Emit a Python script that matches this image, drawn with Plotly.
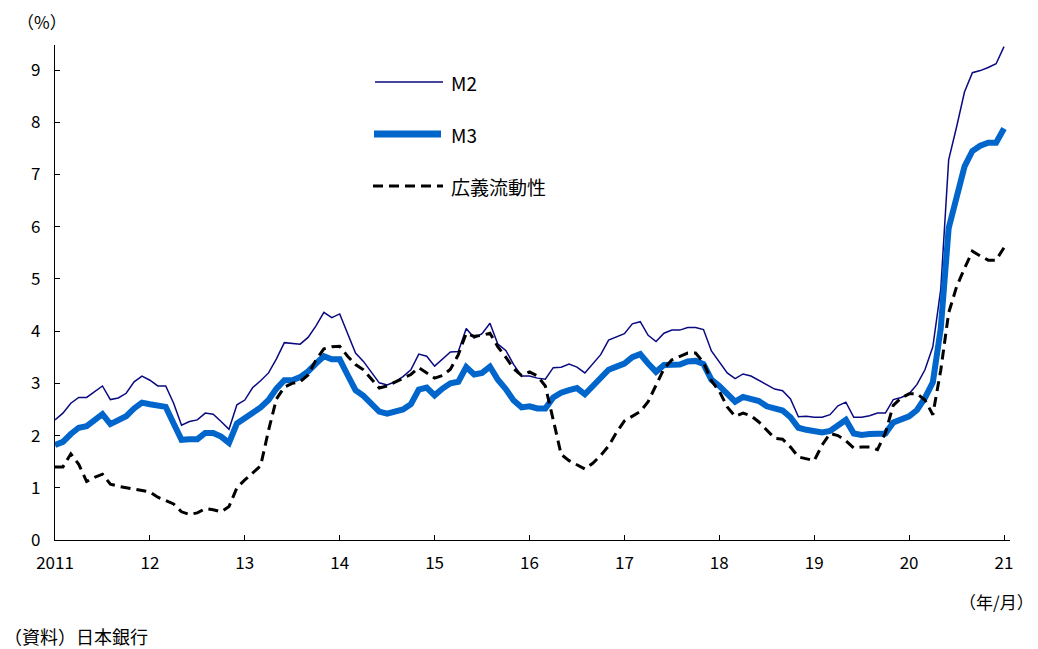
import plotly.graph_objects as go

start_year = 2011
m2 = [
    2.30, 2.43, 2.62, 2.73, 2.73, 2.84, 2.95, 2.69, 2.72, 2.81, 3.03, 3.14,
    3.06, 2.95, 2.95, 2.62, 2.20, 2.27, 2.30, 2.43, 2.41, 2.27, 2.12, 2.59,
    2.68, 2.92, 3.05, 3.20, 3.47, 3.78, 3.76, 3.75, 3.88, 4.10, 4.36, 4.26,
    4.33, 3.95, 3.58, 3.42, 3.22, 3.01, 2.97, 3.03, 3.13, 3.26, 3.56, 3.52,
    3.33, 3.47, 3.60, 3.61, 4.05, 3.87, 3.95, 4.15, 3.75, 3.63, 3.36, 3.14,
    3.14, 3.10, 3.08, 3.30, 3.31, 3.37, 3.31, 3.20, 3.38, 3.55, 3.83, 3.89,
    3.95, 4.14, 4.18, 3.92, 3.80, 3.96, 4.02, 4.02, 4.07, 4.07, 4.03, 3.62,
    3.40, 3.20, 3.09, 3.18, 3.14, 3.06, 2.97, 2.89, 2.86, 2.70, 2.36, 2.37,
    2.35, 2.35, 2.40, 2.57, 2.64, 2.35, 2.35, 2.38, 2.43, 2.43, 2.69, 2.73,
    2.80, 2.98, 3.26, 3.70, 4.80, 7.28, 7.91, 8.58, 8.95, 8.99, 9.05, 9.12,
    9.45,
]
m3 = [
    1.82, 1.88, 2.03, 2.15, 2.18, 2.30, 2.41, 2.22, 2.28, 2.37, 2.52, 2.63,
    2.60, 2.57, 2.55, 2.23, 1.92, 1.93, 1.93, 2.05, 2.05, 1.98, 1.86, 2.23,
    2.33, 2.45, 2.54, 2.68, 2.90, 3.06, 3.06, 3.12, 3.23, 3.38, 3.52, 3.46,
    3.46, 3.16, 2.87, 2.76, 2.62, 2.46, 2.42, 2.45, 2.50, 2.60, 2.88, 2.92,
    2.77, 2.90, 3.00, 3.03, 3.31, 3.17, 3.20, 3.32, 3.07, 2.89, 2.67, 2.54,
    2.56, 2.52, 2.52, 2.73, 2.82, 2.87, 2.91, 2.79, 2.96, 3.09, 3.26, 3.32,
    3.38, 3.50, 3.56, 3.38, 3.22, 3.35, 3.35, 3.36, 3.42, 3.43, 3.37, 3.07,
    2.95, 2.80, 2.65, 2.74, 2.71, 2.66, 2.56, 2.52, 2.48, 2.35, 2.15, 2.11,
    2.07, 2.06, 2.09, 2.20, 2.30, 2.04, 2.01, 2.03, 2.04, 2.04, 2.25, 2.31,
    2.37, 2.49, 2.72, 3.02, 4.05, 5.97, 6.57, 7.15, 7.45, 7.55, 7.61, 7.61,
    7.88,
]
broad = [
    1.40, 1.40, 1.65, 1.45, 1.12, 1.20, 1.26, 1.07, 1.03, 1.00, 0.97, 0.95,
    0.92, 0.82, 0.76, 0.69, 0.54, 0.49, 0.52, 0.60, 0.58, 0.54, 0.64, 1.00,
    1.15, 1.28, 1.42, 2.10, 2.70, 2.93, 3.00, 3.03, 3.16, 3.45, 3.66, 3.70,
    3.71, 3.52, 3.36, 3.26, 3.08, 2.91, 2.95, 3.02, 3.10, 3.17, 3.30, 3.20,
    3.10, 3.15, 3.27, 3.55, 3.96, 3.90, 3.92, 3.96, 3.70, 3.50, 3.28, 3.15,
    3.22, 3.14, 2.95, 2.30, 1.64, 1.52, 1.44, 1.36, 1.47, 1.62, 1.80, 2.06,
    2.28, 2.37, 2.46, 2.65, 2.98, 3.28, 3.45, 3.52, 3.58, 3.58, 3.40, 3.05,
    2.85, 2.55, 2.37, 2.43, 2.38, 2.26, 2.10, 1.95, 1.93, 1.78, 1.59, 1.56,
    1.52, 1.82, 2.04, 2.00, 1.90, 1.76, 1.78, 1.78, 1.73, 2.05, 2.58, 2.72,
    2.80, 2.80, 2.68, 2.40, 3.25, 4.35, 4.85, 5.20, 5.53, 5.44, 5.36, 5.36,
    5.60,
]
tick_years = list(range(2011, 2022))
tick_text = ["2011", "12", "13", "14", "15", "16", "17", "18", "19", "20", "21"]
y_ticks = list(range(0, 10))
series_names = ["M2", "M3", "広義流動性"]

x = [start_year + i / 12 for i in range(len(m2))]

FONT = "Noto Sans CJK JP, Arial, sans-serif"
C_M2 = "#0a0a80"
C_M3 = "#0066cc"

fig = go.Figure()
fig.add_trace(go.Scatter(x=x, y=m2, mode="lines", name=series_names[0],
                         line=dict(color=C_M2, width=1.5)))
fig.add_trace(go.Scatter(x=x, y=m3, mode="lines", name=series_names[1],
                         line=dict(color=C_M3, width=6)))
fig.add_trace(go.Scatter(x=x, y=broad, mode="lines", name=series_names[2],
                         line=dict(color="black", width=3, dash="10px,6px")))

W, H = 1038, 649
L, R, T, B = 55, 28, 45, 109
pw, ph = W - L - R, H - T - B


def px(xp):
    return (xp - L) / pw


def py(yp):
    return (H - B - yp) / ph


shapes = [
    dict(type="line", xref="paper", yref="paper", x0=px(375), x1=px(443),
         y0=py(82), y1=py(82), line=dict(color=C_M2, width=1.5)),
    dict(type="line", xref="paper", yref="paper", x0=px(374), x1=px(441),
         y0=py(134), y1=py(134), line=dict(color=C_M3, width=7)),
    dict(type="line", xref="paper", yref="paper", x0=px(373), x1=px(443),
         y0=py(186), y1=py(186), line=dict(color="black", width=3, dash="10px,6px")),
]
annotations = []
for name, yy in zip(series_names, [82, 134, 187]):
    annotations.append(dict(xref="paper", yref="paper", x=px(449), y=py(yy),
                            text=name, showarrow=False, xanchor="left", yanchor="middle",
                            font=dict(size=19, color="black", family=FONT)))
annotations += [
    dict(xref="paper", yref="paper", x=px(42), y=py(22), text="（%）", showarrow=False,
         xanchor="center", yanchor="middle", font=dict(size=17, color="black", family=FONT)),
    dict(xref="paper", yref="paper", x=px(1036), y=py(601), text="（年/月）", showarrow=False,
         xanchor="right", yanchor="middle", font=dict(size=17, color="black", family=FONT)),
    dict(xref="paper", yref="paper", x=px(2), y=py(636), text="（資料）日本銀行", showarrow=False,
         xanchor="left", yanchor="middle", font=dict(size=18, color="black", family=FONT)),
]

fig.update_layout(
    width=W, height=H,
    margin=dict(l=L, r=R, t=T, b=B, pad=0),
    paper_bgcolor="white", plot_bgcolor="white",
    showlegend=False,
    shapes=shapes, annotations=annotations,
    font=dict(family=FONT, size=17, color="black"),
)
fig.update_xaxes(range=[2011, 2021.063], tickvals=tick_years, ticktext=tick_text,
                 showgrid=False, zeroline=False, showline=True, linecolor="black",
                 linewidth=1.3, ticks="inside", ticklen=5, tickcolor="black", tickwidth=1.3,
                 ticklabelstandoff=7, tickfont=dict(size=17, family=FONT))
fig.update_yaxes(range=[0, 9.48], tickvals=y_ticks, showgrid=False, zeroline=False,
                 showline=True, linecolor="black", linewidth=1.3, ticks="inside",
                 ticklen=5, tickcolor="black", tickwidth=1.3, ticklabelstandoff=10,
                 tickfont=dict(size=17, family=FONT))

fig.write_html("out.html")
